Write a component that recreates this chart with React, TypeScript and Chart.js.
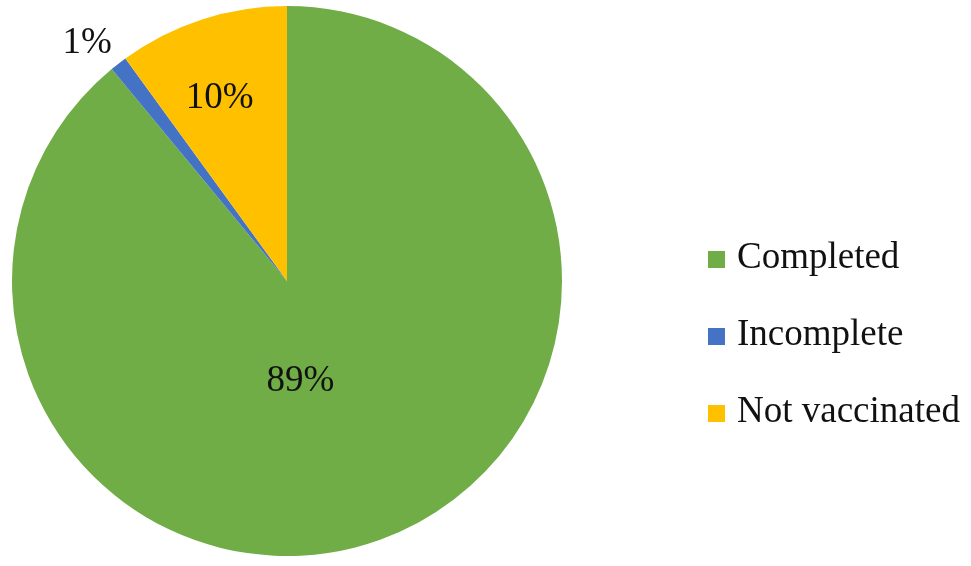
import React, { useEffect, useRef } from "react";
import { Chart, registerables } from "chart.js";

Chart.register(...registerables);

const categories = ["Completed", "Incomplete", "Not vaccinated"];
const shares = [89, 1, 10];
const percentLabels = ["89%", "1%", "10%"];
const sliceColors = ["#70AD47", "#4472C4", "#FFC000"];

const FONT = '37px "Liberation Serif", "Times New Roman", serif';

const labelPlugin = {
  id: "sliceLabels",
  afterDatasetsDraw(chart: any) {
    const ctx = chart.ctx;
    const meta = chart.getDatasetMeta(0);
    const radiusFactor = [0.36, 1.135, 0.716];
    const angleShift = [12, -2, -2];
    ctx.save();
    ctx.font = FONT;
    ctx.fillStyle = "#111111";
    ctx.textAlign = "center";
    ctx.textBaseline = "alphabetic";
    meta.data.forEach((arc: any, i: number) => {
      const p = arc.getProps(["x", "y", "startAngle", "endAngle", "outerRadius"], true);
      const mid = (p.startAngle + p.endAngle) / 2 + (angleShift[i] * Math.PI) / 180;
      const r = p.outerRadius * radiusFactor[i];
      const x = p.x + Math.cos(mid) * r;
      const y = p.y + Math.sin(mid) * r;
      ctx.fillText(percentLabels[i], x, y + 12);
    });
    ctx.restore();
  },
};

const legendPlugin = {
  id: "sideLegend",
  afterDraw(chart: any) {
    const ctx = chart.ctx;
    const boxX = 708;
    const textX = 737;
    const firstBaseline = 268;
    const step = 77;
    const box = 17;
    ctx.save();
    ctx.font = FONT;
    ctx.textAlign = "left";
    ctx.textBaseline = "alphabetic";
    categories.forEach((name, i) => {
      const base = firstBaseline + i * step;
      ctx.fillStyle = sliceColors[i];
      ctx.fillRect(boxX, base - box, box, box);
      ctx.fillStyle = "#111111";
      ctx.fillText(name, textX, base);
    });
    ctx.restore();
  },
};

export default function App() {
  const ref = useRef<HTMLCanvasElement | null>(null);
  useEffect(() => {
    if (!ref.current) return;
    const chart = new Chart(ref.current, {
      type: "pie",
      data: {
        labels: categories,
        datasets: [
          {
            data: shares,
            backgroundColor: sliceColors,
            borderWidth: 0,
          },
        ],
      },
      options: {
        responsive: false,
        animation: false,
        layout: { padding: { left: 12, top: 6, right: 409, bottom: 10 } },
        plugins: {
          legend: { display: false },
          tooltip: { enabled: false },
        },
      },
      plugins: [labelPlugin, legendPlugin],
    });
    return () => chart.destroy();
  }, []);
  return (
    <div style={{ position: "fixed", left: 0, top: 0, width: 971, height: 566, background: "#fff" }}>
      <canvas ref={ref} width={971} height={566} style={{ width: 971, height: 566, display: "block" }} />
    </div>
  );
}
